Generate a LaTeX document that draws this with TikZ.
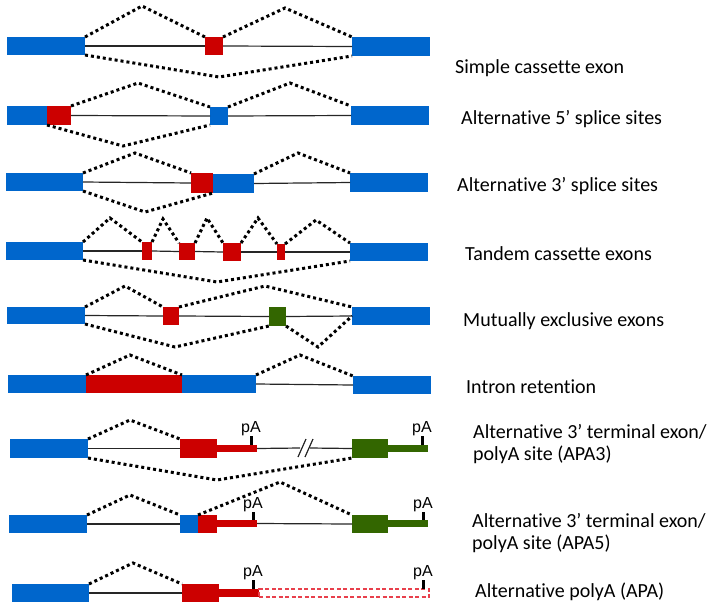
\documentclass[tikz,border=0pt]{standalone}
\usepackage{fontspec}
\setmainfont{Carlito}[Ligatures=NoCommon]
\newfontfamily\pafont{Liberation Sans}
\definecolor{exblue}{HTML}{0066CC}
\definecolor{exred}{HTML}{CC0000}
\definecolor{exgreen}{HTML}{336600}
\definecolor{dashred}{HTML}{E8404C}
\newcommand{\mkexon}[6]{\node[exon,fill=#2,minimum width={#5pt-#3pt},minimum height={#6pt-#4pt}] (#1) at ({(#3+#5)/2},{(#4+#6)/2}) {};}
\begin{document}
\begin{tikzpicture}[x=1pt,y=-1pt,
  exon/.style={rectangle,draw=none,inner sep=0pt,outer sep=0pt},
  dashbox/.style={rectangle,inner sep=0pt,outer sep=0pt,draw=dashred,line width=1.2pt,dash pattern=on 4pt off 2.5pt},
  intron/.style={line width=1.2pt,black!85},
  splice/.style={line width=3pt,black,dash pattern=on 3pt off 3pt},
  lbl/.style={anchor=base west,inner sep=0pt,align=left,font=\fontsize{20}{22}\selectfont},
  pa/.style={anchor=south,inner sep=0pt,font=\pafont\fontsize{16}{16}\selectfont},
  tickmark/.style={line width=3pt,black}]
\useasboundingbox (0,0) rectangle (714,608);

% Row 1: simple cassette exon
\mkexon{r1a}{exblue}{7}{37}{85}{55}
\mkexon{r1b}{exred}{205}{37}{223}{55}
\mkexon{r1c}{exblue}{352}{37}{430}{56}
\draw[intron] (r1a.east) -- (r1b.west);
\draw[intron] (r1b.east) -- (r1c.west);
\draw[splice] (r1a.north east) -- (142,6) -- (r1b.north west);
\draw[splice] (r1b.north east) -- (285,8) -- (r1c.north west);
\draw[splice] (r1a.south east) -- (219,77) -- (r1c.south west);
\node[lbl] (l1) at (455,73) {Simple cassette exon};

% Row 2: alternative 5' splice sites
\mkexon{r2a}{exblue}{7}{106}{47}{125}
\mkexon{r2b}{exred}{47}{106}{71}{125}
\mkexon{r2c}{exblue}{210}{107}{228}{125}
\mkexon{r2d}{exblue}{351}{106}{429}{125}
\draw[intron] (r2b.east) -- (r2c.west);
\draw[intron] (r2c.east) -- (r2d.west);
\draw[splice] (r2b.north east) -- (138,83) -- (r2c.north west);
\draw[splice] (r2c.north east) -- (290,83) -- (r2d.north west);
\draw[splice] (r2a.south east) -- (123,146) -- (r2c.south west);
\node[lbl] (l2) at (461,124) {Alternative 5’ splice sites};

% Row 3: alternative 3' splice sites
\mkexon{r3a}{exblue}{6}{173}{83}{191}
\mkexon{r3c}{exblue}{213}{174}{254}{193}
\mkexon{r3b}{exred}{191}{173}{213}{193}
\mkexon{r3d}{exblue}{350}{173}{428}{192}
\draw[intron] (r3a.east) -- (r3b.west);
\draw[intron] (r3c.east) -- (r3d.west);
\draw[splice] (r3a.north east) -- (135,153) -- (r3b.north west);
\draw[splice] (r3c.north east) -- (298,153) -- (r3d.north west);
\draw[splice] (r3a.south east) -- (145,212) -- (r3b.south east);
\node[lbl] (l3) at (457,191) {Alternative 3’ splice sites};

% Row 4: tandem cassette exons
\mkexon{r4a}{exblue}{6}{242}{83}{260}
\mkexon{t1}{exred}{142}{242}{152}{260}
\mkexon{t2}{exred}{179}{243}{195}{260}
\mkexon{t3}{exred}{223}{243}{241}{261}
\mkexon{t4}{exred}{277}{244}{285}{260}
\mkexon{r4f}{exblue}{350}{243}{428}{261}
\draw[intron] (r4a.east) -- (t1.west);
\draw[intron] (t1.east) -- (t2.west);
\draw[intron] (t2.east) -- (t3.west);
\draw[intron] (t3.east) -- (t4.west);
\draw[intron] (t4.east) -- (r4f.west);
\draw[splice] (r4a.north east) -- (110,218) -- (t1.north west);
\draw[splice] (t1.north east) -- (163,219) -- (t2.north west);
\draw[splice] (t2.north east) -- (207,218) -- (t3.north west);
\draw[splice] (t3.north east) -- (258,218) -- (t4.north west);
\draw[splice] (t4.north east) -- (316,220) -- (r4f.north west);
\draw[splice] (r4a.south east) -- (217,282) -- (r4f.south west);
\node[lbl] (l4) at (465,260) {Tandem cassette exons};

% Row 5: mutually exclusive exons
\mkexon{r5a}{exblue}{7}{307}{85}{324}
\mkexon{r5b}{exred}{163}{307}{179}{325}
\mkexon{r5c}{exgreen}{269}{307}{286}{326}
\mkexon{r5d}{exblue}{352}{307}{430}{325}
\draw[intron] (r5a.east) -- (r5b.west);
\draw[intron] (r5b.east) -- (r5c.west);
\draw[intron] (r5c.east) -- (r5d.west);
\draw[splice] (r5a.north east) -- (125,286) -- (r5b.north west);
\draw[splice] (r5b.north east) -- (265,286) -- (r5d.north west);
\draw[splice] (r5a.south east) -- (175,347) -- (r5c.south west);
\draw[splice] (r5c.south east) -- (318,347) -- (r5d.west);
\node[lbl] (l5) at (463,326) {Mutually exclusive exons};

% Row 6: intron retention
\mkexon{r6a}{exblue}{8}{375}{86}{393}
\mkexon{r6b}{exred}{86}{375}{182}{393}
\mkexon{r6c}{exblue}{182}{375}{256}{393}
\mkexon{r6d}{exblue}{353}{376}{431}{394}
\draw[intron] (r6c.east) -- (r6d.west);
\draw[splice] (r6b.north west) -- (130,355) -- (r6b.north east);
\draw[splice] (r6c.north east) -- (300,355) -- (r6d.north west);
\node[lbl] (l6) at (466,393) {Intron retention};

% Row 7: APA3
\mkexon{r7a}{exblue}{10}{439}{88}{458}
\mkexon{r7b}{exred}{180}{439}{217}{458}
\mkexon{r7bt}{exred}{217}{445}{257}{452}
\mkexon{r7c}{exgreen}{352}{439}{388}{458}
\mkexon{r7ct}{exgreen}{388}{445}{428}{452}
\coordinate (br1) at (300,448);
\coordinate (br2) at (310,448);
\draw[intron] (r7a.east) -- (r7b.west);
\draw[intron] (r7bt.east) -- (br1);
\draw[intron] (br2) -- (r7c.west);
\draw[intron] (298,457) -- (306,439);
\draw[intron] (305,457) -- (313,439);
\draw[splice] (r7a.north east) -- (130,420) -- (r7b.north west);
\draw[splice] (r7a.south east) -- (217,480) -- (r7c.south west);
\node[pa] (p7a) at (251,436) {pA};
\node[pa] (p7b) at (422,436) {pA};
\draw[tickmark] (p7a.south) -- (r7bt.north -| p7a.south);
\draw[tickmark] (p7b.south) -- (r7ct.north -| p7b.south);
\node[lbl] (l7) at (473,460) {Alternative 3’ terminal exon/\\polyA site (APA3)};

% Row 8: APA5
\mkexon{r8a}{exblue}{9}{515}{87}{533}
\mkexon{r8b}{exblue}{180}{515}{198}{533}
\mkexon{r8c}{exred}{198}{515}{217}{533}
\mkexon{r8ct}{exred}{217}{520}{257}{527}
\mkexon{r8d}{exgreen}{352}{515}{388}{533}
\mkexon{r8dt}{exgreen}{388}{520}{428}{527}
\draw[intron] (r8a.east) -- (r8b.west);
\draw[intron] (r8ct.east) -- (r8d.west);
\draw[splice] (r8a.north east) -- (130,495) -- (r8b.north west);
\draw[splice] (r8c.north west) -- (280,482) -- (r8d.north west);
\node[pa] (p8a) at (253,512) {pA};
\node[pa] (p8b) at (423,512) {pA};
\draw[tickmark] (p8a.south) -- (r8ct.north -| p8a.south);
\draw[tickmark] (p8b.south) -- (r8dt.north -| p8b.south);
\node[lbl] (l8) at (472,549) {Alternative 3’ terminal exon/\\polyA site (APA5)};

% Row 9: APA
\mkexon{r9a}{exblue}{12}{584}{89}{602}
\mkexon{r9b}{exred}{182}{584}{219}{602}
\mkexon{r9bt}{exred}{219}{589}{259}{597}
\node[dashbox,minimum width=170pt,minimum height=8pt] (r9x) at (344,593) {};
\draw[intron] (r9a.east) -- (r9b.west);
\draw[splice] (r9a.north east) -- (133,563) -- (r9b.north west);
\node[pa] (p9a) at (253,580) {pA};
\node[pa] (p9b) at (423,580) {pA};
\draw[tickmark] (p9a.south) -- (r9bt.north -| p9a.south);
\draw[tickmark] (p9b.south) -- (r9x.north -| p9b.south);
\node[lbl] (l9) at (475,597) {Alternative polyA (APA)};
\end{tikzpicture}
\end{document}
